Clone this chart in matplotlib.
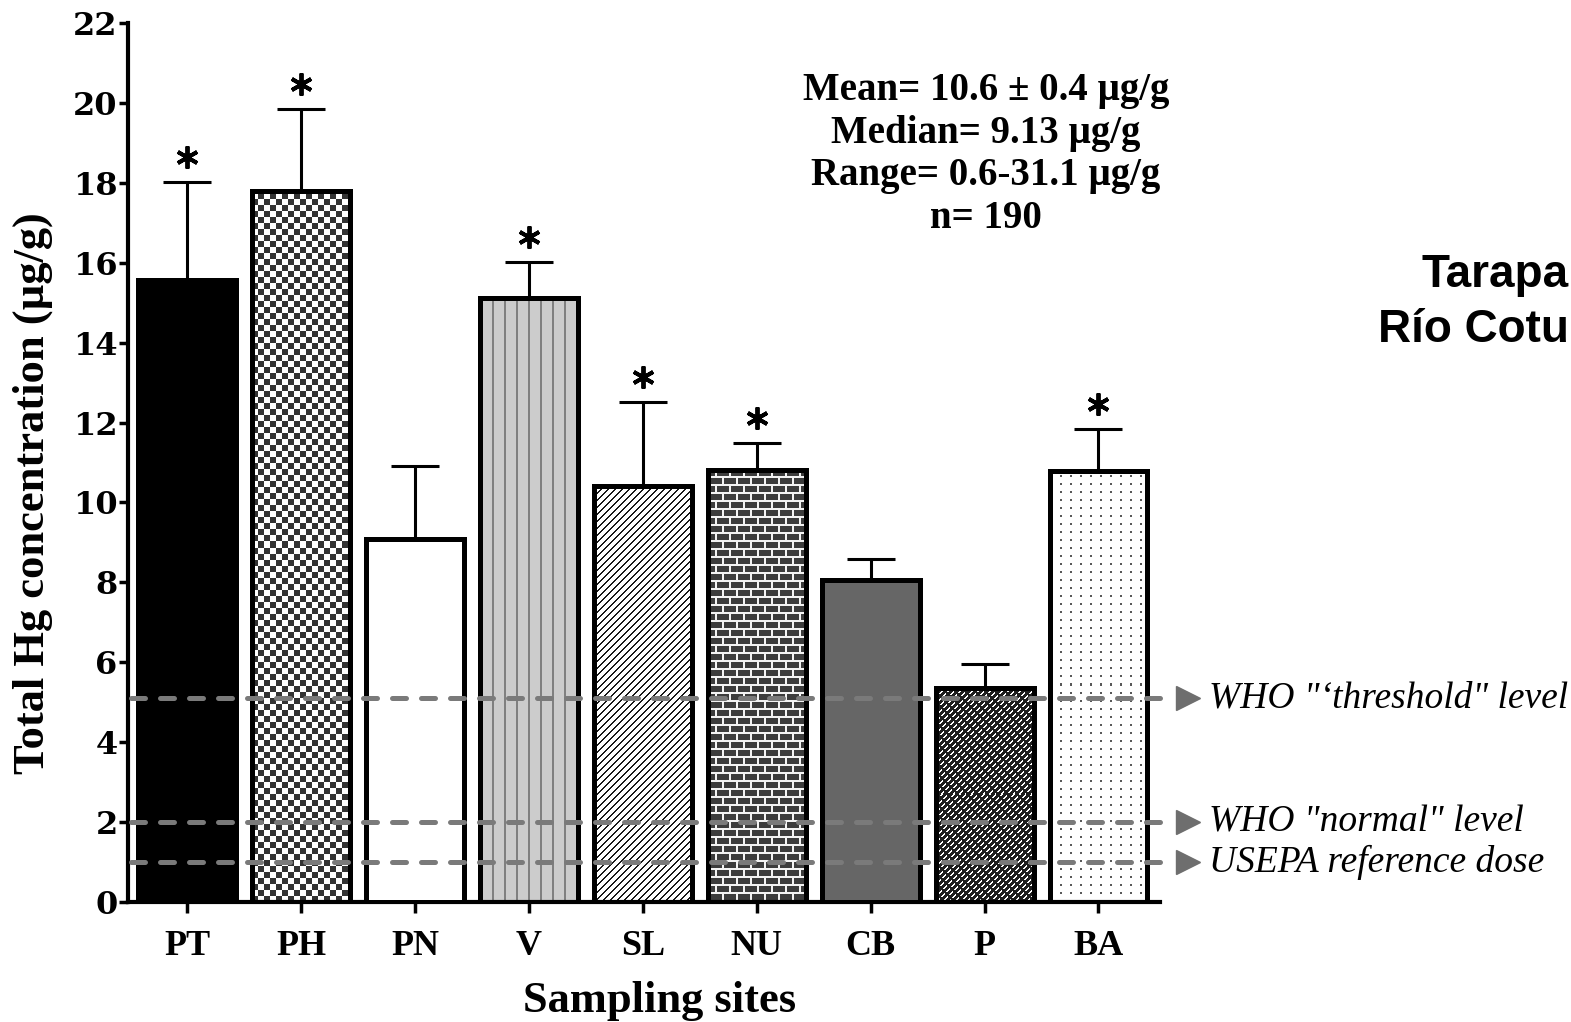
import numpy as np
import matplotlib
matplotlib.use('Agg')
import matplotlib.pyplot as plt
from matplotlib.transforms import offset_copy

# data
sites = ['PT', 'PH', 'PN', 'V', 'SL', 'NU', 'CB', 'P', 'BA']
means = [15.57, 17.8, 9.09, 15.12, 10.41, 10.81, 8.06, 5.36, 10.79]
errors = [2.45, 2.05, 1.82, 0.9, 2.11, 0.68, 0.53, 0.6, 1.05]
signif = [True, True, False, True, True, True, False, False, True]
ref_levels = [5.1, 2.0, 1.0]
ref_labels = ['WHO "\u2018threshold" level', 'WHO "normal" level', 'USEPA reference dose']
stats_lines = ['Mean= 10.6 \u00b1 0.4 \u00b5g/g', 'Median= 9.13 \u00b5g/g',
               'Range= 0.6-31.1 \u00b5g/g', 'n= 190']
side_title = ['Tarapa', 'R\u00edo Cotu']

# fill style of each bar
fills = ['black', 'checker', 'white', 'vlines', 'diag', 'brick', '#666666', 'weave', 'dots']


def texture(kind, h, w):
    yy, xx = np.mgrid[0:h, 0:w]
    img = np.ones((h, w))
    if kind == 'checker':
        img = np.where((yy // 6 + xx // 6) % 2 == 0, 0.2, 1.0)
    elif kind == 'vlines':
        img = np.where(xx % 12 < 2, 0.5, 0.8)
    elif kind == 'diag':
        img = np.where((xx - yy) % 7 < 2, 0.1, 1.0)
    elif kind == 'brick':
        row = yy // 8
        mortar = (yy % 8 < 2) | ((xx + (row % 2) * 7) % 14 < 2)
        img = np.where(mortar, 0.95, 0.24)
    elif kind == 'weave':
        white = ((xx - yy) % 6 < 2) & ((xx + yy) % 10 < 7)
        img = np.where(white, 1.0, 0.12)
    elif kind == 'dots':
        img = np.where((xx % 10 < 2) & (yy % 8 < 2), 0.35, 1.0)
    return img


fig = plt.figure(figsize=(15.71, 10.22), dpi=100)
ax = fig.add_axes([128 / 1571, 1 - 902 / 1022, (1160 - 128) / 1571, (902 - 23) / 1022])
ax.set_xlim(-0.52, 8.54)
ax.set_ylim(0, 22)

x = np.arange(len(sites))
w = 0.86
colors = [f if f.startswith('#') or f in ('black', 'white') else 'none' for f in fills]
bars = ax.bar(x, means, width=w, color=colors, edgecolor='black', linewidth=3.6, zorder=3)

for i, kind in enumerate(fills):
    if colors[i] != 'none':
        continue
    (x0, y0), (x1, y1) = ax.transData.transform([(i - w / 2, 0), (i + w / 2, means[i])])
    img = texture(kind, int(round(y1 - y0)), int(round(x1 - x0)))
    im = ax.imshow(img, cmap='gray', vmin=0, vmax=1, origin='lower', aspect='auto',
                   interpolation='nearest', extent=(i - w / 2, i + w / 2, 0, means[i]), zorder=2)
    im.set_clip_path(bars[i])

ax.set_xlim(-0.52, 8.54)
ax.set_ylim(0, 22)

ax.errorbar(x, means, yerr=[np.zeros(len(x)), errors], fmt='none', ecolor='black',
            elinewidth=2.2, capsize=17, capthick=2.2, zorder=2.5)

star_tr = offset_copy(ax.transData, fig=fig, y=25, units='dots')
for i in range(len(sites)):
    if signif[i]:
        ax.plot(i, means[i] + errors[i], marker=(6, 2, 0), ms=16, mew=2.8, color='black',
                transform=star_tr, clip_on=False, zorder=4)

for lvl, lab in zip(ref_levels, ref_labels):
    ax.plot([-0.49, 8.6], [lvl, lvl], color='#7a7a7a', lw=3.6, dashes=(2.8, 3.0),
            dash_capstyle='round', clip_on=False, zorder=5)
    ax.plot(8.79, lvl, marker='>', ms=17, color='#6e6e6e', clip_on=False, zorder=5)
    ax.text(8.97, lvl, lab, va='center', ha='left', fontsize=27, style='italic',
            family='Liberation Serif', clip_on=False)

for side in ['top', 'right']:
    ax.spines[side].set_visible(False)
for side in ['left', 'bottom']:
    ax.spines[side].set_linewidth(3)

ax.set_yticks(np.arange(0, 23, 2))
ax.set_xticks(x)
ax.set_xticklabels(sites, family='Liberation Serif', fontweight='bold', fontsize=26)
ax.set_yticklabels([str(v) for v in range(0, 23, 2)], family='DejaVu Serif',
                   fontweight='bold', fontsize=23)
ax.tick_params(axis='y', direction='out', length=6.5, width=2.5, pad=1)
ax.tick_params(axis='x', direction='out', length=8, width=2.5, pad=12)

fig.text(33 / 1571, 1 - 493 / 1022, 'Total Hg concentration (\u00b5g/g)', rotation=90,
         ha='center', va='center', family='Liberation Serif', fontweight='bold', fontsize=32)
fig.text(660 / 1571, 1 - 1012 / 1022, 'Sampling sites', ha='center', va='baseline',
         family='Liberation Serif', fontweight='bold', fontsize=32)

for k, line in enumerate(stats_lines):
    fig.text(986 / 1571, 1 - (100 + 42.5 * k) / 1022, line, ha='center', va='baseline',
             family='Liberation Serif', fontweight='bold', fontsize=28)

fig.text(1569 / 1571, 1 - 287 / 1022, side_title[0], ha='right', va='baseline',
         family='Liberation Sans', fontweight='bold', fontsize=33)
fig.text(1569 / 1571, 1 - 342 / 1022, side_title[1], ha='right', va='baseline',
         family='Liberation Sans', fontweight='bold', fontsize=33)

fig.savefig('out.png', dpi=100)
